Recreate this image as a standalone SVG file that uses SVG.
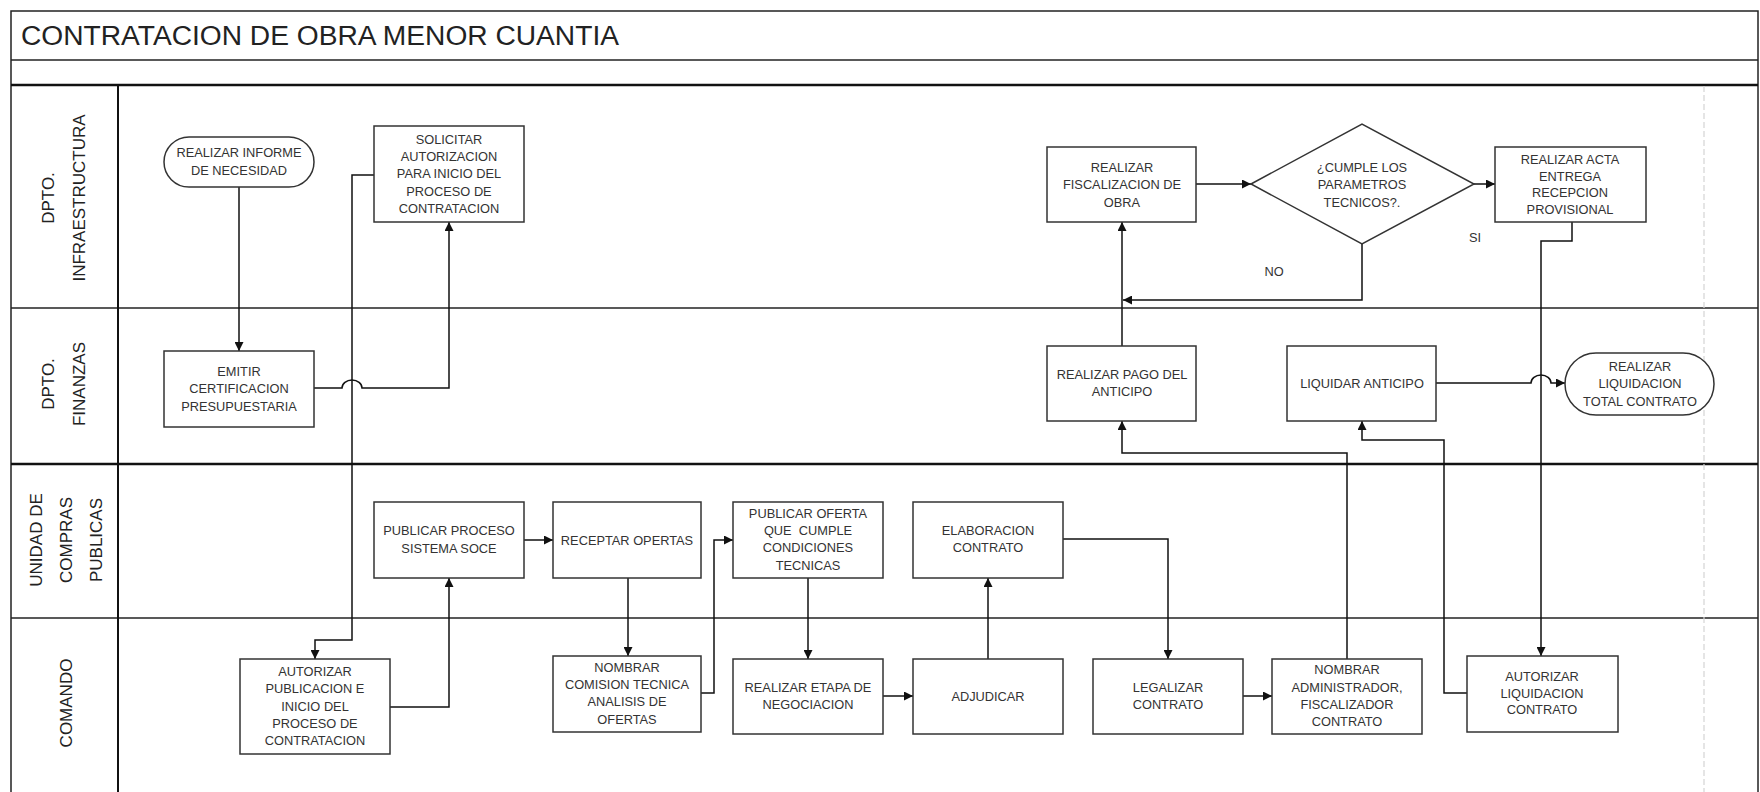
<svg xmlns="http://www.w3.org/2000/svg" width="1760" height="792" viewBox="0 0 1760 792">
<style>
.frame{fill:none;stroke:#222;stroke-width:1.5}
.thick{stroke:#111;stroke-width:2.5}
.thin{stroke:#222;stroke-width:1.5}
.box{fill:#fff;stroke:#333;stroke-width:1.5}
.t{font-family:"Liberation Sans",Arial,sans-serif;font-size:12.8px;fill:#333;text-anchor:middle}
.lane{font-family:"Liberation Sans",Arial,sans-serif;font-size:17px;fill:#222;text-anchor:middle}
.title{font-family:"Liberation Sans",Arial,sans-serif;font-size:27px;fill:#222}
.c{fill:none;stroke:#111;stroke-width:1.5;marker-end:url(#ah)}
.cn{fill:none;stroke:#111;stroke-width:1.5}
</style>
<defs>
<marker id="ah" viewBox="0 0 10 10" refX="10" refY="5" markerWidth="10" markerHeight="9" markerUnits="userSpaceOnUse" orient="auto">
<path d="M0,0 L10,5 L0,10 z" fill="#111"/>
</marker>
</defs>
<rect width="1760" height="792" fill="#fff"/>

<g id="frame">
<rect class="frame" x="11" y="11" width="1747" height="790"/>
<line class="thin" x1="11" y1="60" x2="1758" y2="60"/>
<line class="thick" x1="11" y1="85" x2="1758" y2="85"/>
<line class="thin" x1="11" y1="308" x2="1758" y2="308"/>
<line class="thick" x1="11" y1="464" x2="1758" y2="464"/>
<line class="thin" x1="11" y1="618" x2="1758" y2="618"/>
<line x1="118" y1="85" x2="118" y2="792" stroke="#111" stroke-width="2"/>
<line x1="1704" y1="86" x2="1704" y2="792" stroke="#d4d4d4" stroke-width="1.2" stroke-dasharray="6 3"/>
<text class="title" x="21" y="45" textLength="598" lengthAdjust="spacingAndGlyphs">CONTRATACION DE OBRA MENOR CUANTIA</text>
</g>

<g id="lanes">
<g transform="translate(0,198) rotate(-90)">
<text class="lane" x="0" y="54">DPTO.</text>
<text class="lane" x="0" y="85">INFRAESTRUCTURA</text>
</g>
<g transform="translate(0,384) rotate(-90)">
<text class="lane" x="0" y="54">DPTO.</text>
<text class="lane" x="0" y="85">FINANZAS</text>
</g>
<g transform="translate(0,540) rotate(-90)">
<text class="lane" x="0" y="42">UNIDAD DE</text>
<text class="lane" x="0" y="72">COMPRAS</text>
<text class="lane" x="0" y="102">PUBLICAS</text>
</g>
<g transform="translate(0,703) rotate(-90)">
<text class="lane" x="0" y="72">COMANDO</text>
</g>
</g>

<g id="connectors">
<path class="c" d="M239,187 V351"/>
<path class="c" d="M314,388 H342 A10,8 0 0 1 362,388 H449 V222"/>
<path class="c" d="M374,175 H352 V640 H315 V659"/>
<path class="c" d="M390,707 H449 V578"/>
<path class="c" d="M524,540 H553"/>
<path class="c" d="M628,578 V656"/>
<path class="c" d="M701,693 H714 V540 H733"/>
<path class="c" d="M808,578 V659"/>
<path class="c" d="M883,696 H913"/>
<path class="c" d="M988,659 V578"/>
<path class="c" d="M1063,539 H1168 V659"/>
<path class="c" d="M1243,696 H1272"/>
<path class="c" d="M1347,659 V453 H1122 V421"/>
<path class="c" d="M1122,346 V222"/>
<path class="c" d="M1196,184 H1251"/>
<path class="c" d="M1474,184 H1495"/>
<path class="c" d="M1362,244 V300 H1123"/>
<path class="c" d="M1572,222 V241 H1541 V656"/>
<path class="c" d="M1467,693 H1444 V440 H1362 V421"/>
<path class="c" d="M1436,383 H1531 A10,8 0 0 1 1551,383 H1565"/>
<text class="t" x="1475" y="242">SI</text>
<text class="t" x="1274" y="276">NO</text>
</g>

<g id="n-informe">
<rect class="box" x="164" y="137" width="150" height="50" rx="25"/>
<text class="t" x="239" y="157">REALIZAR INFORME</text>
<text class="t" x="239" y="175">DE NECESIDAD</text>
</g>
<g id="n-solicitar">
<rect class="box" x="374" y="126" width="150" height="96"/>
<text class="t" x="449" y="144">SOLICITAR</text>
<text class="t" x="449" y="161">AUTORIZACION</text>
<text class="t" x="449" y="178">PARA INICIO DEL</text>
<text class="t" x="449" y="196">PROCESO DE</text>
<text class="t" x="449" y="213">CONTRATACION</text>
</g>
<g id="n-emitir">
<rect class="box" x="164" y="351" width="150" height="76"/>
<text class="t" x="239" y="376">EMITIR</text>
<text class="t" x="239" y="393">CERTIFICACION</text>
<text class="t" x="239" y="411">PRESUPUESTARIA</text>
</g>
<g id="n-publicar-proceso">
<rect class="box" x="374" y="502" width="150" height="76"/>
<text class="t" x="449" y="535">PUBLICAR PROCESO</text>
<text class="t" x="449" y="553">SISTEMA SOCE</text>
</g>
<g id="n-receptar">
<rect class="box" x="553" y="502" width="148" height="76"/>
<text class="t" x="627" y="545">RECEPTAR OPERTAS</text>
</g>
<g id="n-autorizar-pub">
<rect class="box" x="240" y="659" width="150" height="95"/>
<text class="t" x="315" y="676">AUTORIZAR</text>
<text class="t" x="315" y="693">PUBLICACION E</text>
<text class="t" x="315" y="711">INICIO DEL</text>
<text class="t" x="315" y="728">PROCESO DE</text>
<text class="t" x="315" y="745">CONTRATACION</text>
</g>
<g id="n-comision">
<rect class="box" x="553" y="656" width="148" height="76"/>
<text class="t" x="627" y="672">NOMBRAR</text>
<text class="t" x="627" y="689">COMISION TECNICA</text>
<text class="t" x="627" y="706">ANALISIS DE</text>
<text class="t" x="627" y="724">OFERTAS</text>
</g>
<g id="n-publicar-oferta">
<rect class="box" x="733" y="502" width="150" height="76"/>
<text class="t" x="808" y="518">PUBLICAR OFERTA</text>
<text class="t" x="808" y="535" xml:space="preserve">QUE  CUMPLE</text>
<text class="t" x="808" y="552">CONDICIONES</text>
<text class="t" x="808" y="570">TECNICAS</text>
</g>
<g id="n-elaboracion">
<rect class="box" x="913" y="502" width="150" height="76"/>
<text class="t" x="988" y="535">ELABORACION</text>
<text class="t" x="988" y="552">CONTRATO</text>
</g>
<g id="n-etapa">
<rect class="box" x="733" y="659" width="150" height="75"/>
<text class="t" x="808" y="692">REALIZAR ETAPA DE</text>
<text class="t" x="808" y="709">NEGOCIACION</text>
</g>
<g id="n-adjudicar">
<rect class="box" x="913" y="659" width="150" height="75"/>
<text class="t" x="988" y="701">ADJUDICAR</text>
</g>
<g id="n-legalizar">
<rect class="box" x="1093" y="659" width="150" height="75"/>
<text class="t" x="1168" y="692">LEGALIZAR</text>
<text class="t" x="1168" y="709">CONTRATO</text>
</g>
<g id="n-nombrar-admin">
<rect class="box" x="1272" y="659" width="150" height="75"/>
<text class="t" x="1347" y="674">NOMBRAR</text>
<text class="t" x="1347" y="692">ADMINISTRADOR,</text>
<text class="t" x="1347" y="709">FISCALIZADOR</text>
<text class="t" x="1347" y="726">CONTRATO</text>
</g>
<g id="n-autorizar-liq">
<rect class="box" x="1467" y="656" width="151" height="76"/>
<text class="t" x="1542" y="681">AUTORIZAR</text>
<text class="t" x="1542" y="698">LIQUIDACION</text>
<text class="t" x="1542" y="714">CONTRATO</text>
</g>
<g id="n-fiscalizacion">
<rect class="box" x="1047" y="147" width="149" height="75"/>
<text class="t" x="1122" y="172">REALIZAR</text>
<text class="t" x="1122" y="189">FISCALIZACION DE</text>
<text class="t" x="1122" y="207">OBRA</text>
</g>
<g id="n-decision">
<polygon class="box" points="1251,184 1362,124 1474,184 1362,244"/>
<text class="t" x="1362" y="172">¿CUMPLE LOS</text>
<text class="t" x="1362" y="189">PARAMETROS</text>
<text class="t" x="1362" y="207">TECNICOS?.</text>
</g>
<g id="n-acta">
<rect class="box" x="1495" y="147" width="151" height="75"/>
<text class="t" x="1570" y="164">REALIZAR ACTA</text>
<text class="t" x="1570" y="181">ENTREGA</text>
<text class="t" x="1570" y="197">RECEPCION</text>
<text class="t" x="1570" y="214">PROVISIONAL</text>
</g>
<g id="n-pago">
<rect class="box" x="1047" y="346" width="149" height="75"/>
<text class="t" x="1122" y="379">REALIZAR PAGO DEL</text>
<text class="t" x="1122" y="396">ANTICIPO</text>
</g>
<g id="n-liquidar">
<rect class="box" x="1287" y="346" width="149" height="75"/>
<text class="t" x="1362" y="388">LIQUIDAR ANTICIPO</text>
</g>
<g id="n-liquidacion-total">
<rect class="box" x="1565" y="353" width="149" height="62" rx="31"/>
<text class="t" x="1640" y="371">REALIZAR</text>
<text class="t" x="1640" y="388">LIQUIDACION</text>
<text class="t" x="1640" y="406">TOTAL CONTRATO</text>
</g>
</svg>
